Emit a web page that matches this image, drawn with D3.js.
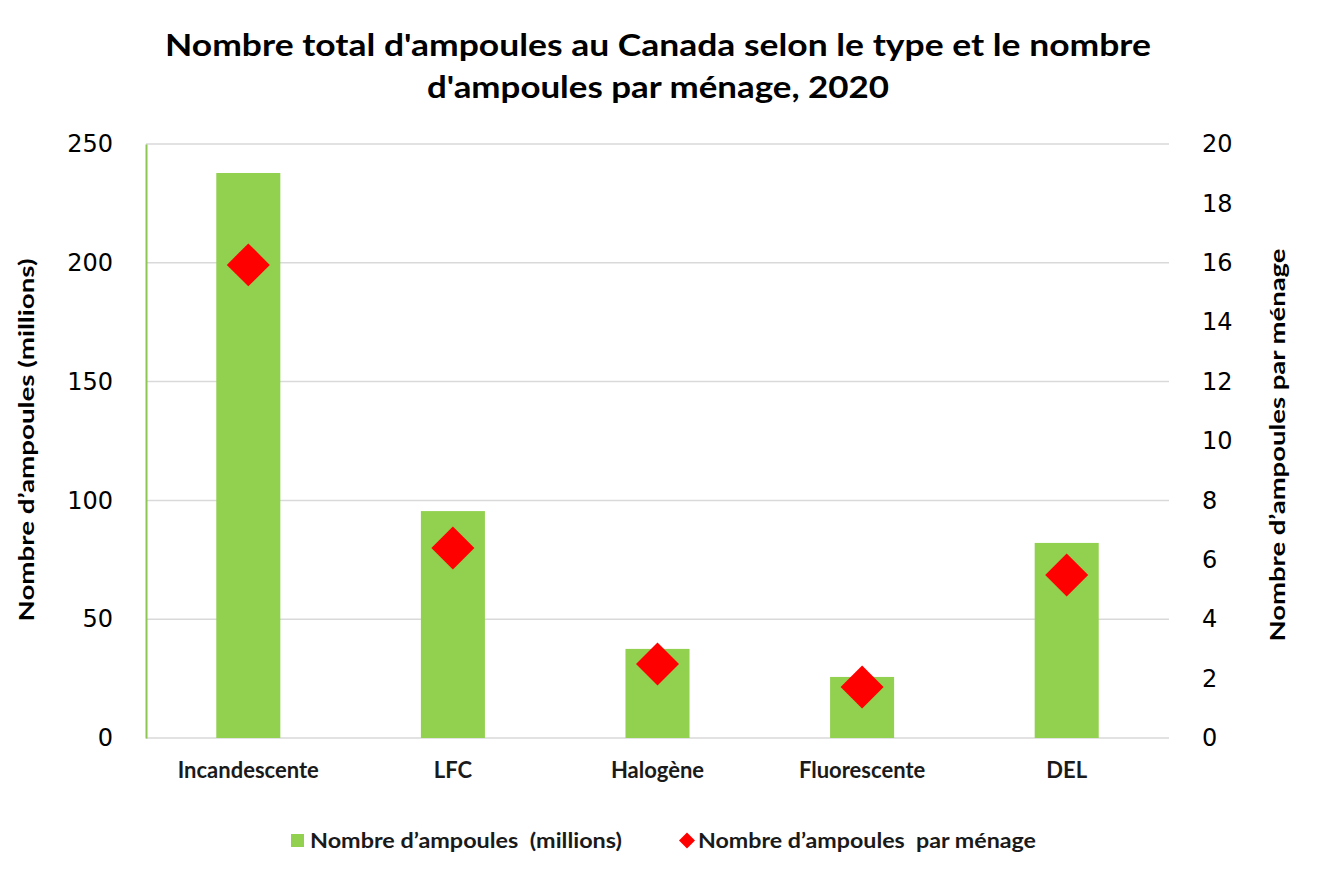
<!DOCTYPE html>
<html>
<head>
<meta charset="utf-8">
<script src="https://cdn.jsdelivr.net/npm/d3@7"></script>
<style>
  body { margin: 0; background: #fff; }
  svg text { white-space: pre; }
</style>
</head>
<body>
<script>
const categories = ["Incandescente", "LFC", "Halogène", "Fluorescente", "DEL"];
const bulbsMillions = [237.8, 95.5, 37.5, 25.7, 82.1];
const bulbsPerHousehold = [15.93, 6.4, 2.49, 1.72, 5.49];
const leftTicks = [0, 50, 100, 150, 200, 250];
const rightTicks = [0, 2, 4, 6, 8, 10, 12, 14, 16, 18, 20];
const titleLines = ["Nombre total d'ampoules au Canada selon le type et le nombre", "d'ampoules par ménage, 2020"];
const leftTitle = "Nombre d’ampoules (millions)";
const rightTitle = "Nombre d’ampoules par ménage";
const legendLabels = ["Nombre d’ampoules  (millions)", "Nombre d’ampoules  par ménage"];

const W = 1317, H = 874;
const plot = { left: 146, right: 1169, top: 144, bottom: 738 };
const boldFont = "Lato, 'Liberation Sans', sans-serif";
const numFont = "'DejaVu Sans', sans-serif";

const svg = d3.select("body").append("svg").attr("width", W).attr("height", H);

const x = d3.scaleBand().domain(categories).range([plot.left, plot.right]).paddingInner(0.687).paddingOuter(0.3435);
const yL = d3.scaleLinear().domain([0, 250]).range([plot.bottom, plot.top]);
const yR = d3.scaleLinear().domain([0, 20]).range([plot.bottom, plot.top]);

// gridlines
svg.append("g").selectAll("line").data(leftTicks).join("line")
  .attr("x1", plot.left).attr("x2", plot.right)
  .attr("y1", d => yL(d)).attr("y2", d => yL(d))
  .attr("stroke", "#d9d9d9").attr("stroke-width", 1.5);

// left axis
const gL = svg.append("g").attr("transform", `translate(${plot.left},0)`)
  .call(d3.axisLeft(yL).tickValues(leftTicks).tickSize(0).tickPadding(33));
gL.select(".domain").attr("stroke", "#8dc653").attr("stroke-width", 2);
gL.selectAll("text").attr("font-family", numFont).attr("font-size", 24).attr("fill", "#000");

// right axis
const gR = svg.append("g").attr("transform", `translate(${plot.right},0)`)
  .call(d3.axisRight(yR).tickValues(rightTicks).tickSize(0).tickPadding(33));
gR.select(".domain").remove();
gR.selectAll("text").attr("font-family", numFont).attr("font-size", 24).attr("fill", "#000");

// bars
svg.append("g").selectAll("rect").data(categories).join("rect")
  .attr("x", d => x(d)).attr("width", x.bandwidth())
  .attr("y", (d, i) => yL(bulbsMillions[i]))
  .attr("height", (d, i) => yL(0) - yL(bulbsMillions[i]))
  .attr("fill", "#92d050");

// diamonds
const dsym = d3.symbol().type(d3.symbolSquare).size(924);
svg.append("g").selectAll("path").data(categories).join("path")
  .attr("d", dsym)
  .attr("transform", (d, i) => `translate(${x(d) + x.bandwidth() / 2},${yR(bulbsPerHousehold[i])}) rotate(45)`)
  .attr("fill", "#ff0000");

// category labels
svg.append("g").selectAll("text").data(categories).join("text")
  .attr("x", d => x(d) + x.bandwidth() / 2).attr("y", 778)
  .attr("text-anchor", "middle")
  .attr("font-family", boldFont).attr("font-weight", "bold").attr("font-size", 22)
  .attr("fill", "#1a1a1a")
  .text(d => d);

// title
svg.append("g").selectAll("text").data(titleLines).join("text")
  .attr("x", 658).attr("y", (d, i) => 56 + i * 42)
  .attr("text-anchor", "middle")
  .attr("font-family", boldFont).attr("font-weight", "bold").attr("font-size", 30)
  .attr("textLength", (d, i) => i === 0 ? 986 : 462)
  .attr("lengthAdjust", "spacingAndGlyphs")
  .attr("fill", "#000")
  .text(d => d);

// axis titles
svg.append("text")
  .attr("transform", "translate(34,440) rotate(-90)")
  .attr("text-anchor", "middle")
  .attr("font-family", boldFont).attr("font-weight", "bold").attr("font-size", 21)
  .attr("textLength", 363).attr("lengthAdjust", "spacingAndGlyphs")
  .attr("fill", "#000").text(leftTitle);
svg.append("text")
  .attr("transform", "translate(1285,445) rotate(-90)")
  .attr("text-anchor", "middle")
  .attr("font-family", boldFont).attr("font-weight", "bold").attr("font-size", 21)
  .attr("textLength", 393).attr("lengthAdjust", "spacingAndGlyphs")
  .attr("fill", "#000").text(rightTitle);

// legend
const lg = svg.append("g");
lg.append("rect").attr("x", 291).attr("y", 834).attr("width", 13).attr("height", 13).attr("fill", "#92d050");
lg.append("text").attr("x", 310).attr("y", 848)
  .attr("font-family", boldFont).attr("font-weight", "bold").attr("font-size", 20.5)
  .attr("textLength", 312).attr("lengthAdjust", "spacingAndGlyphs")
  .attr("fill", "#1a1a1a").text(legendLabels[0]);
lg.append("path").attr("d", d3.symbol().type(d3.symbolSquare).size(128))
  .attr("transform", "translate(687,840.5) rotate(45)").attr("fill", "#ff0000");
lg.append("text").attr("x", 698).attr("y", 848)
  .attr("font-family", boldFont).attr("font-weight", "bold").attr("font-size", 20.5)
  .attr("textLength", 338).attr("lengthAdjust", "spacingAndGlyphs")
  .attr("fill", "#1a1a1a").text(legendLabels[1]);
</script>
</body>
</html>
